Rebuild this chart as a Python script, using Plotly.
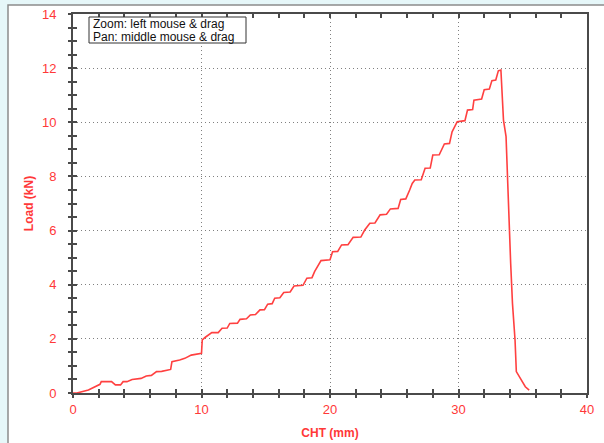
import plotly.graph_objects as go

# Data (CHT in mm, Load in kN)
cht_mm = [0, 0.3, 1.2, 2.1, 2.2, 3.0, 3.3, 3.7, 3.9, 4.2, 4.6, 5.3, 5.7, 6.1, 6.5, 6.9, 7.6, 7.7,
          8.3, 8.7, 9.2, 10.0, 10.06, 10.3, 10.8, 11.3, 11.6, 12.0, 12.2, 12.8, 13.0, 13.5, 13.8,
          14.2, 14.55, 14.9, 15.15, 15.5, 15.7, 16.1, 16.4, 16.9, 17.2, 17.9, 18.2, 18.6, 18.8,
          19.3, 20.0, 20.2, 20.6, 20.9, 21.4, 21.8, 22.4, 22.7, 23.1, 23.5, 23.9, 24.4, 24.7, 25.3,
          25.5, 25.9, 26.2, 26.4, 26.6, 27.1, 27.4, 27.8, 28.0, 28.5, 28.9, 29.3, 29.5, 29.9, 30.5,
          30.7, 31.1, 31.2, 31.8, 32.0, 32.4, 32.6, 32.9, 33.1, 33.3, 33.35, 33.5, 33.7, 33.8,
          33.95, 34.06, 34.2, 34.4, 34.5, 34.8, 35.2, 35.5]
load_kn = [0, 0, 0.11, 0.32, 0.42, 0.42, 0.3, 0.3, 0.42, 0.42, 0.5, 0.54, 0.63, 0.65, 0.79, 0.8,
           0.87, 1.16, 1.22, 1.28, 1.4, 1.47, 1.96, 2.06, 2.23, 2.23, 2.39, 2.4, 2.57, 2.58, 2.72,
           2.74, 2.88, 2.9, 3.07, 3.08, 3.28, 3.3, 3.5, 3.52, 3.71, 3.73, 3.95, 3.98, 4.24, 4.26,
           4.48, 4.89, 4.92, 5.22, 5.23, 5.47, 5.48, 5.75, 5.76, 6.02, 6.27, 6.28, 6.58, 6.6, 6.8,
           6.82, 7.15, 7.17, 7.5, 7.74, 7.87, 7.88, 8.3, 8.31, 8.79, 8.8, 9.2, 9.22, 9.65, 10.02,
           10.06, 10.45, 10.47, 10.82, 10.86, 11.2, 11.23, 11.54, 11.56, 11.9, 11.93, 11.56, 10.08,
           9.47, 8.0, 6.27, 4.79, 3.31, 1.96, 0.79, 0.54, 0.23, 0.11]
assert len(cht_mm) == len(load_kn)

x_title = "CHT (mm)"
y_title = "Load (kN)"
help_lines = ["Zoom: left mouse & drag", "Pan: middle mouse & drag"]

RED = "#ff3838"
AXIS = "#4a4a4a"
CYAN = "#e6f7f9"
FONT = "Liberation Sans, Arial, sans-serif"

L, T, W, H = 73, 14, 514, 379  # plot area in pixels


def px_x(p):
    return (p - L) / W


def px_y(p):
    return (T + H - p) / H


fig = go.Figure()
fig.add_trace(go.Scatter(x=cht_mm, y=load_kn, mode="lines",
                         line=dict(color="#ff4040", width=1.6), hoverinfo="skip"))
# helper (empty) trace so the overlay axes carrying the outer tick halves are drawn
fig.add_trace(go.Scatter(x=[], y=[], xaxis="x2", yaxis="y2", hoverinfo="skip"))

common_tick = dict(tickcolor=AXIS, tickwidth=1.5, ticklen=4)
grid = dict(showgrid=True, gridcolor="#808080", griddash="1px,3px", gridwidth=1.3)

fig.update_layout(
    width=604, height=443,
    margin=dict(l=L, r=604 - L - W, t=T, b=443 - T - H, autoexpand=False),
    paper_bgcolor=CYAN,
    plot_bgcolor="white",
    showlegend=False,
    font=dict(family=FONT, color=RED, size=13),
    xaxis=dict(range=[0, 40], tick0=0, dtick=10, ticks="inside", **common_tick,
               minor=dict(dtick=2, ticks="inside", ticklen=4, tickcolor=AXIS, showgrid=False),
               **grid, automargin=False,
               zeroline=False, showline=True, linecolor=AXIS, linewidth=2, mirror="ticks",
               tickfont=dict(family=FONT, color=RED, size=13), ticklabelstandoff=3,
               title=dict(text="<b>" + x_title + "</b>", font=dict(family=FONT, color=RED, size=12),
                          standoff=13)),
    yaxis=dict(range=[0, 14], tick0=0, dtick=2, ticks="inside", **common_tick,
               minor=dict(dtick=0.5, ticks="inside", ticklen=4, tickcolor=AXIS, showgrid=False),
               **grid, automargin=False,
               zeroline=False, showline=True, linecolor=AXIS, linewidth=2, mirror=True,
               tickfont=dict(family=FONT, color=RED, size=13), ticklabelstandoff=12,
               title=dict(text="<b>" + y_title + "</b>", font=dict(family=FONT, color=RED, size=12),
                          standoff=6)),
    xaxis2=dict(range=[0, 40], overlaying="x", anchor="y", side="bottom", tick0=0, dtick=10,
                ticks="outside", **common_tick, automargin=False,
                minor=dict(dtick=2, ticks="outside", ticklen=4, tickcolor=AXIS),
                showticklabels=False, showgrid=False, zeroline=False, showline=False),
    yaxis2=dict(range=[0, 14], overlaying="y", anchor="x", side="left", tick0=0, dtick=2,
                ticks="outside", **common_tick, automargin=False,
                minor=dict(dtick=0.5, ticks="outside", ticklen=4, tickcolor=AXIS),
                showticklabels=False, showgrid=False, zeroline=False, showline=False),
    shapes=[
        dict(type="rect", xref="paper", yref="paper", layer="below",
             x0=px_x(8), x1=1.3, y0=-0.4, y1=px_y(5),
             fillcolor="white", line=dict(color="#8c8c8c", width=1.5)),
        dict(type="rect", xref="paper", yref="paper", layer="above",
             x0=px_x(89), x1=px_x(246), y0=px_y(43), y1=px_y(17),
             fillcolor="white", line=dict(color="#333333", width=1)),
    ],
    annotations=[
        dict(xref="paper", yref="paper", x=px_x(91), y=px_y(24 + 13 * i),
             xanchor="left", yanchor="middle", showarrow=False, align="left",
             text=line, font=dict(family=FONT, color="#111111", size=12))
        for i, line in enumerate(help_lines)
    ],
)

# remove the browser's default 8px body margin so the figure sits at the window origin
fig.write_html("out.html",
               config={"displayModeBar": False},
               post_script="document.body.style.margin='0';document.body.style.background='%s';" % CYAN)
